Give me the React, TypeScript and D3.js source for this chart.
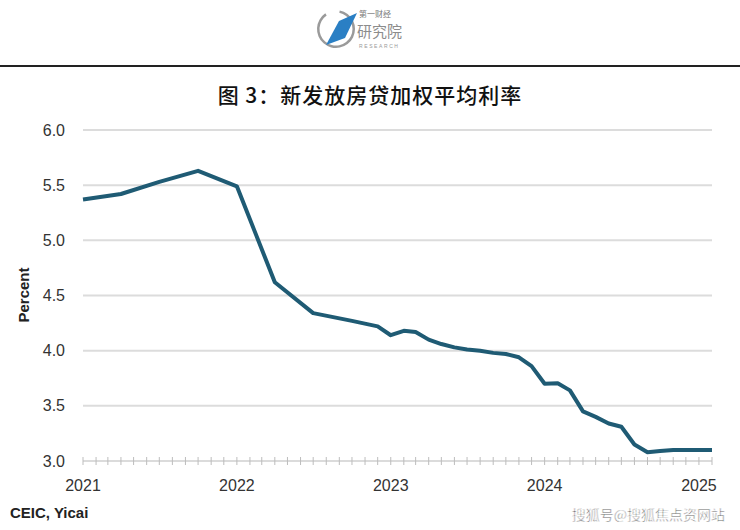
import React from 'react';
import * as d3 from 'd3';

// month of observation, YYYY-MM
const months = [
  '2021-01', '2021-04', '2021-07', '2021-10',
  '2022-01', '2022-04', '2022-07', '2022-10', '2022-12',
  '2023-01', '2023-02', '2023-03', '2023-04', '2023-05', '2023-06',
  '2023-07', '2023-08', '2023-09', '2023-10', '2023-11', '2023-12',
  '2024-01', '2024-02', '2024-03', '2024-04', '2024-05', '2024-06',
  '2024-07', '2024-08', '2024-09', '2024-10', '2024-11', '2024-12',
  '2025-01', '2025-02',
];
const rates = [
  5.37, 5.42, 5.53, 5.63,
  5.49, 4.62, 4.34, 4.27, 4.22,
  4.14, 4.18, 4.17, 4.10, 4.06, 4.03,
  4.01, 4.0, 3.98, 3.97, 3.94, 3.86,
  3.70, 3.705, 3.64, 3.45, 3.40, 3.34,
  3.31, 3.15, 3.08, 3.09, 3.10, 3.10,
  3.10, 3.10,
];
const yTicks = [3.0, 3.5, 4.0, 4.5, 5.0, 5.5, 6.0];
const yearTicks = ['2021', '2022', '2023', '2024', '2025'];

const title = '图 3：新发放房贷加权平均利率';
const source = 'CEIC, Yicai';
const watermark = '搜狐号@搜狐焦点资网站';

const W = 740;
const H = 530;
const left = 83;
const right = 712;
const top = 130;
const bottom = 461;
const font = '"Liberation Sans", Arial, sans-serif';
const cjk = '"Noto Sans CJK SC"';

export default function App() {
  const parse = d3.timeParse('%Y-%m');
  const data = months.map((m, i) => ({ date: parse(m) as Date, value: rates[i] }));

  const x = d3
    .scaleTime()
    .domain([parse('2021-01') as Date, parse('2025-02') as Date])
    .range([left, right]);
  const y = d3.scaleLinear().domain([3, 6]).range([bottom, top]);

  const line = d3
    .line<{ date: Date; value: number }>()
    .x((d) => x(d.date))
    .y((d) => y(d.value));

  const monthTicks = d3.timeMonth.range(parse('2021-01') as Date, d3.timeMonth.offset(parse('2025-02') as Date, 1));

  return (
    <svg width={W} height={H} style={{ position: 'absolute', left: 0, top: 0, background: '#fff' }}>
      {/* logo */}
      <g>
        <path
          d={d3.arc()({ innerRadius: 16.5, outerRadius: 19, startAngle: 0.2, endAngle: Math.PI * 2 - 0.6 }) as string}
          transform="translate(336,29)"
          fill="#9a9a9a"
        />
        <polygon points="326,45 339,21 357,13 345,38" fill="#2a7fc4" />
        <text x={359} y={17} fontSize={8} fill="#777" fontFamily={cjk}>第一财经</text>
        <text x={357} y={37} fontSize={15} fill="#8c8c8c" fontFamily={cjk}>研究院</text>
        <text x={359} y={48} fontSize={5} fill="#999" letterSpacing={1.6} fontFamily={font}>RESEARCH</text>
      </g>
      <line x1={0} x2={W} y1={66} y2={66} stroke="#222" strokeWidth={2} />
      <text x={370} y={103} textAnchor="middle" fontSize={21} fontWeight={500} fill="#111" fontFamily={cjk} letterSpacing={1}>
        {title}
      </text>

      {/* grid */}
      {yTicks.slice(1).map((t) => (
        <line key={t} x1={left} x2={right} y1={y(t)} y2={y(t)} stroke="#dcdcdc" strokeWidth={2} />
      ))}
      {yTicks.map((t) => (
        <text key={t} x={65} y={y(t) + 5.5} textAnchor="end" fontSize={16} fill="#333" fontFamily={font}>
          {d3.format('.1f')(t)}
        </text>
      ))}

      {/* x axis */}
      <line x1={left} x2={right} y1={bottom} y2={bottom} stroke="#cfcfcf" strokeWidth={1.5} />
      {monthTicks.map((d, i) => (
        <line key={i} x1={x(d)} x2={x(d)} y1={bottom - 4} y2={bottom + 4} stroke="#bdbdbd" strokeWidth={1} />
      ))}
      {yearTicks.map((yr) => (
        <text key={yr} x={x(parse(yr + '-01') as Date)} y={bottom + 30} textAnchor="middle" fontSize={16} fill="#333" fontFamily={font}>
          {yr}
        </text>
      ))}

      <text transform={`translate(29,295) rotate(-90)`} textAnchor="middle" fontSize={15} fontWeight="bold" fill="#222" fontFamily={font}>
        Percent
      </text>

      <path d={line(data) as string} fill="none" stroke="#1f5b74" strokeWidth={4} strokeLinejoin="round" />

      <text x={10} y={518} fontSize={15} fontWeight="bold" fill="#222" fontFamily={font}>
        {source}
      </text>
      <text x={725} y={520} textAnchor="end" fontSize={14} fill="#333" stroke="#fff" strokeWidth={0.6} fontFamily={cjk}>
        {watermark}
      </text>
    </svg>
  );
}
